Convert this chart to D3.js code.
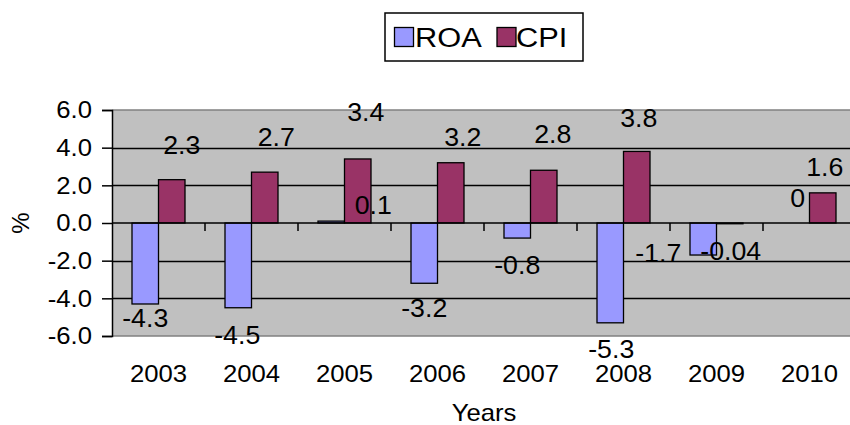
<!DOCTYPE html>
<html>
<head>
<meta charset="utf-8">
<script src="https://cdn.jsdelivr.net/npm/d3@7"></script>
<style>
  html, body { margin: 0; padding: 0; background: #ffffff; }
  svg { display: block; }
  text { font-family: Arial, "Liberation Sans", sans-serif; fill: #000; }
</style>
</head>
<body>
<div id="chart"></div>
<script>
// ---- data ----
const years = ["2003", "2004", "2005", "2006", "2007", "2008", "2009", "2010"];
const seriesNames = ["ROA", "CPI"];
const roa = [-4.3, -4.5, 0.1, -3.2, -0.8, -5.3, -1.7, 0];
const cpi = [2.3, 2.7, 3.4, 3.2, 2.8, 3.8, -0.04, 1.6];
const roaLabels = ["-4.3", "-4.5", "0.1", "-3.2", "-0.8", "-5.3", "-1.7", "0"];
const cpiLabels = ["2.3", "2.7", "3.4", "3.2", "2.8", "3.8", "-0.04", "1.6"];
const yTicks = [-6, -4, -2, 0, 2, 4, 6];
const yTickLabels = ["-6.0", "-4.0", "-2.0", "0.0", "2.0", "4.0", "6.0"];
const xTitle = "Years";
const yTitle = "%";

// ---- label nudges (pixels, as placed in the original) ----
const roaLabelNudge = [[0, 14], [-1, 27], [42, -16], [0, 25], [0, 27], [1, 26], [-45, -2], [1.5, -25]];
const cpiLabelNudge = [[10, -35], [11.5, -35], [8, -46.5], [12, -25.5], [9, -36.5], [2, -33.5], [1, 27], [2, -26]];

// ---- layout ----
const W = 850, H = 425;
const plotLeft = 112, plotTop = 110, plotBottom = 336;
const catWidth = 93;
const stretch = 1.07;
const colors = { ROA: "#9999FF", CPI: "#993366" };

const svg = d3.select("#chart").append("svg")
  .attr("width", W).attr("height", H);

const x0 = d3.scaleBand().domain(years)
  .range([plotLeft, plotLeft + catWidth * years.length]).paddingInner(0).paddingOuter(0);
const x1 = d3.scaleBand().domain(seriesNames).range([20, 73]).padding(0);
const y = d3.scaleLinear().domain([-6, 6]).range([plotBottom, plotTop]);

function place(sel, fx, fy, sx) {
  sel.attr("transform", (d, i) => `translate(${fx(d, i)},${fy(d, i)}) scale(${sx || stretch},1)`);
}

// plot background
svg.append("rect")
  .attr("x", plotLeft).attr("y", plotTop)
  .attr("width", x0.range()[1] - plotLeft).attr("height", plotBottom - plotTop)
  .attr("fill", "#C0C0C0");

// borders top/bottom (gray)
[6, -6].forEach(v => {
  svg.append("line")
    .attr("x1", plotLeft).attr("x2", W)
    .attr("y1", y(v)).attr("y2", y(v))
    .attr("stroke", "#808080").attr("stroke-width", 1.5);
});

// gridlines
svg.append("g").selectAll("line")
  .data(yTicks.filter(v => v !== 6 && v !== -6 && v !== 0))
  .join("line")
  .attr("x1", plotLeft).attr("x2", W)
  .attr("y1", d => Math.round(y(d)) + 0.5).attr("y2", d => Math.round(y(d)) + 0.5)
  .attr("stroke", "#000").attr("stroke-width", 1.3);

// y axis
const yAxis = d3.axisLeft(y).tickValues(yTicks)
  .tickFormat((d, i) => yTickLabels[i]).tickSize(10).tickPadding(10);
const gy = svg.append("g").attr("transform", `translate(${plotLeft},0)`).call(yAxis);
gy.select(".domain").attr("stroke", "#000").attr("stroke-width", 1.5);
gy.selectAll(".tick line").attr("stroke", "#000").attr("stroke-width", 1.5);
gy.selectAll(".tick text")
  .attr("x", 0)
  .attr("transform", `translate(-20,0) scale(${stretch},1)`)
  .attr("font-size", 24).attr("font-family", "Arial, 'Liberation Sans', sans-serif")
  .attr("fill", "#000");

// bars
const rows = years.map((yr, i) => ({ year: yr, i, ROA: roa[i], CPI: cpi[i] }));
const barData = [];
rows.forEach(r => seriesNames.forEach(s => barData.push({ year: r.year, i: r.i, s, v: r[s] })));

svg.append("g").selectAll("rect")
  .data(barData)
  .join("rect")
  .attr("x", d => x0(d.year) + x1(d.s))
  .attr("width", x1.bandwidth())
  .attr("y", d => Math.min(y(d.v), y(0)))
  .attr("height", d => Math.abs(y(d.v) - y(0)))
  .attr("fill", d => colors[d.s])
  .attr("stroke", "#000").attr("stroke-width", 1.3);

// zero line with category ticks
svg.append("line")
  .attr("x1", plotLeft).attr("x2", W)
  .attr("y1", y(0)).attr("y2", y(0))
  .attr("stroke", "#000").attr("stroke-width", 1.5);
svg.append("g").selectAll("line")
  .data(years.slice(1))
  .join("line")
  .attr("x1", d => x0(d)).attr("x2", d => x0(d))
  .attr("y1", y(0)).attr("y2", y(0) + 8)
  .attr("stroke", "#000").attr("stroke-width", 1.5);

// category labels
const catText = svg.append("g").selectAll("text")
  .data(years)
  .join("text")
  .attr("text-anchor", "middle")
  .attr("font-size", 24)
  .text(d => d);
place(catText, d => x0(d) + x0.bandwidth() / 2, () => 382);

// data labels
function labelLayer(vals, labels, nudge, s) {
  const t = svg.append("g").selectAll("text")
    .data(vals.map((v, i) => ({ v, i, t: labels[i], n: nudge[i] })))
    .join("text")
    .attr("dy", "0.36em")
    .attr("text-anchor", "middle")
    .attr("font-size", 25)
    .text(d => d.t);
  place(t, d => x0(years[d.i]) + x1(s) + x1.bandwidth() / 2 + d.n[0], d => y(d.v) + d.n[1]);
}
labelLayer(roa, roaLabels, roaLabelNudge, "ROA");
labelLayer(cpi, cpiLabels, cpiLabelNudge, "CPI");

// axis titles
svg.append("text")
  .attr("transform", `translate(484,421) scale(${stretch},1)`)
  .attr("text-anchor", "middle").attr("font-size", 24)
  .text(xTitle);
svg.append("text")
  .attr("transform", "translate(20,223) rotate(-90)")
  .attr("text-anchor", "middle").attr("dy", "0.36em")
  .attr("font-size", 24)
  .text(yTitle);

// legend
const lg = svg.append("g");
lg.append("rect")
  .attr("x", 385).attr("y", 13).attr("width", 198).attr("height", 48)
  .attr("fill", "#fff").attr("stroke", "#000").attr("stroke-width", 1.5);
const legendItems = [
  { s: "ROA", sx: 394.5, tx: 415 },
  { s: "CPI", sx: 497, tx: 516 }
];
legendItems.forEach(it => {
  lg.append("rect")
    .attr("x", it.sx).attr("y", 27.5).attr("width", 19).attr("height", 19)
    .attr("fill", colors[it.s]).attr("stroke", "#000").attr("stroke-width", 1.3);
  lg.append("text")
    .attr("transform", `translate(${it.tx},47) scale(1.1,1)`)
    .attr("font-size", 28)
    .text(it.s);
});
</script>
</body>
</html>
